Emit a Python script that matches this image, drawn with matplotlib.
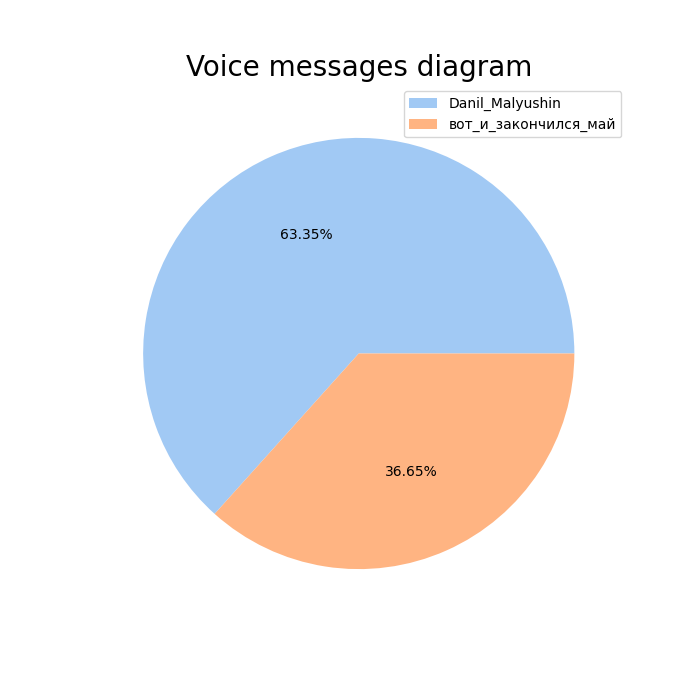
import matplotlib
matplotlib.use("Agg")
import matplotlib.pyplot as plt

labels = ["Danil_Malyushin", "вот_и_закончился_май"]
values = [63.35, 36.65]
colors = ["#a1c9f4", "#ffb482"]

fig, ax = plt.subplots(figsize=(7, 7), dpi=100)
ax.pie(values, colors=colors, autopct="%.2f%%")
ax.set_title("Voice messages diagram", fontsize=20)
ax.legend(labels, loc="upper right")
fig.savefig("out.png")
